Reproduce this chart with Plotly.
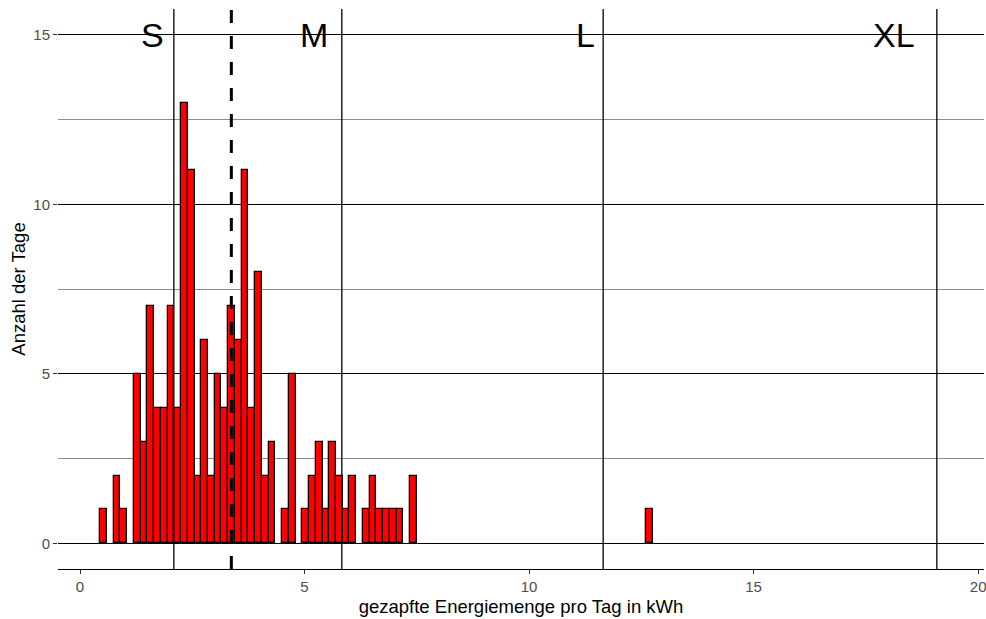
import plotly.graph_objects as go

# Histogram data: bin centres (kWh, bin width 0.15) and number of days
bin_centers = [0.525, 0.825, 0.975, 1.275, 1.425, 1.575, 1.725, 1.875, 2.025, 2.175,
               2.325, 2.475, 2.625, 2.775, 2.925, 3.075, 3.225, 3.375, 3.525, 3.675,
               3.825, 3.975, 4.125, 4.275, 4.575, 4.725, 5.025, 5.175, 5.325, 5.475,
               5.625, 5.775, 5.925, 6.075, 6.375, 6.525, 6.675, 6.825, 6.975, 7.125,
               7.425, 12.675]
day_counts = [1, 2, 1, 5, 3, 7, 4, 4, 7, 4,
              13, 11, 2, 6, 2, 5, 4, 7, 6, 11,
              4, 8, 2, 3, 1, 5, 1, 2, 3, 1,
              3, 2, 1, 2, 1, 2, 1, 1, 1, 1,
              2, 1]
bin_width = 0.15

# Size classes
class_limits = [2.09, 5.83, 11.65, 19.08]
class_labels = ["S", "M", "L", "XL"]
class_label_x = [1.61, 5.22, 11.25, 18.13]
class_label_y = 15
mean_value = 3.37

x_ticks = [0, 5, 10, 15, 20]
y_ticks = [0, 5, 10, 15]
y_minor = [2.5, 7.5, 12.5]

FONT = "Liberation Sans, Arial, sans-serif"

fig = go.Figure()
fig.add_trace(go.Bar(
    x=bin_centers, y=day_counts, width=bin_width,
    marker=dict(color="#FF0000", line=dict(color="black", width=1.3)),
    showlegend=False,
))

shapes = []
for xv in class_limits:
    shapes.append(dict(type="line", xref="x", yref="paper", x0=xv, x1=xv, y0=0, y1=1,
                       line=dict(color="black", width=1.3), layer="above"))
shapes.append(dict(type="line", xref="x", yref="paper", x0=mean_value, x1=mean_value, y0=0, y1=1,
                   line=dict(color="black", width=3, dash="13px,13px"), layer="above"))

annotations = []
for lab, xv in zip(class_labels, class_label_x):
    annotations.append(dict(x=xv, y=class_label_y, xref="x", yref="y", text=lab,
                            showarrow=False, font=dict(family=FONT, size=34, color="black"),
                            xanchor="center", yanchor="middle"))

fig.update_layout(
    width=986, height=619,
    margin=dict(l=58, r=2, t=9, b=50),
    paper_bgcolor="white", plot_bgcolor="white",
    bargap=0,
    shapes=shapes, annotations=annotations,
    font=dict(family=FONT),
    xaxis=dict(
        range=[-0.49, 20.13], tickvals=x_ticks, ticks="outside", ticklen=4,
        tickcolor="#333333", tickwidth=1.2, automargin=False,
        ticklabeloverflow="allow",
        showline=True, linecolor="black", linewidth=1.2,
        showgrid=False, zeroline=False,
        tickfont=dict(family=FONT, size=15, color="#4D4D4D"),
        title=dict(text="gezapfte Energiemenge pro Tag in kWh", standoff=5,
                   font=dict(family=FONT, size=18.5, color="black")),
    ),
    yaxis=dict(
        range=[-0.757, 15.76], tickvals=y_ticks, ticks="outside", ticklen=4,
        tickcolor="#333333", tickwidth=1.2, automargin=False,
        showline=False, zeroline=False,
        showgrid=True, gridcolor="black", gridwidth=1.3,
        minor=dict(tickvals=y_minor, showgrid=True, gridcolor="#8C8C8C", gridwidth=1, ticks=""),
        tickfont=dict(family=FONT, size=15, color="#4D4D4D"),
        title=dict(text="Anzahl der Tage", standoff=2,
                   font=dict(family=FONT, size=18.5, color="black")),
    ),
)

fig.write_html("out.html", config={"displayModeBar": False},
               post_script="document.body.style.margin='0';document.body.style.overflow='hidden';")
